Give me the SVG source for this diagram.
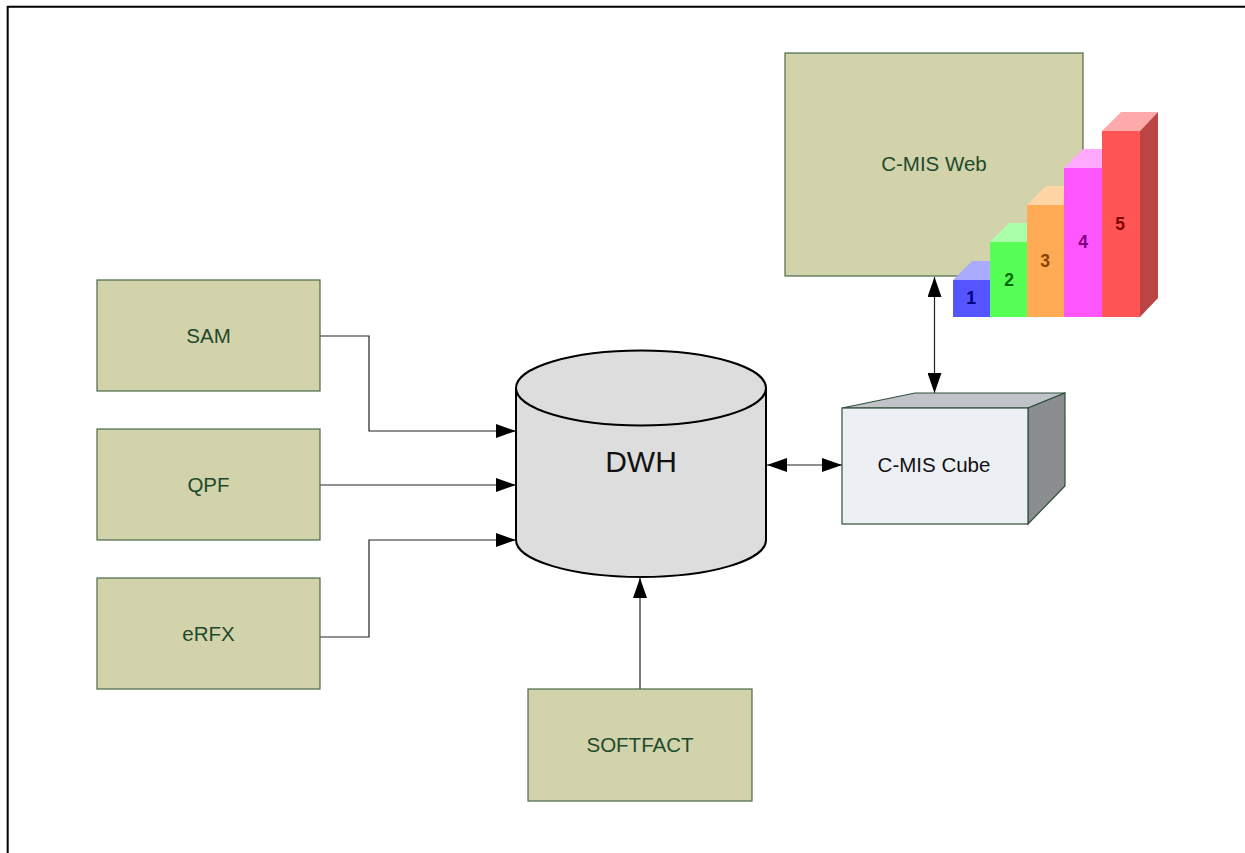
<svg xmlns="http://www.w3.org/2000/svg" width="1245" height="853" viewBox="0 0 1245 853">
  <style>
    .box { fill: #D2D2AB; stroke: #4A6A4A; stroke-width: 1.2; }
    .lbl { font-family: "Liberation Sans", Arial, sans-serif; font-size: 20.5px; fill: #1E4A2C; text-anchor: middle; }
    .num { font-family: "Liberation Sans", Arial, sans-serif; font-size: 17.5px; font-weight: bold; text-anchor: middle; }
    .conn { fill: none; stroke: #222; stroke-width: 1.2; }
    .cube { stroke: #2F4F3A; stroke-width: 1.2; }
  </style>
  <defs>
    <marker id="arrow" markerUnits="userSpaceOnUse" markerWidth="20" markerHeight="14" refX="20" refY="7" orient="auto-start-reverse">
      <path d="M0,0 L20,7 L0,14 z" fill="#000"/>
    </marker>
  </defs>

  <rect width="1245" height="853" fill="#fff"/>
  <!-- page frame -->
  <path d="M7.7,853 V6.7 H1245" fill="none" stroke="#000" stroke-width="2"/>

  <!-- connectors -->
  <g id="connectors">
    <path class="conn" d="M320,336 H369 V431 H516" marker-end="url(#arrow)"/>
    <path class="conn" d="M320,485 H516" marker-end="url(#arrow)"/>
    <path class="conn" d="M320,637 H369 V540 H516" marker-end="url(#arrow)"/>
    <path class="conn" d="M640,689 V578" marker-end="url(#arrow)"/>
    <path class="conn" d="M767,465 H842" marker-start="url(#arrow)" marker-end="url(#arrow)"/>
    <path class="conn" d="M934.5,277 V393" marker-start="url(#arrow)" marker-end="url(#arrow)"/>
  </g>

  <g id="sam">
    <rect class="box" x="97" y="280" width="223" height="111"/>
    <text class="lbl" x="208.5" y="343">SAM</text>
  </g>
  <g id="qpf">
    <rect class="box" x="97" y="429" width="223" height="111"/>
    <text class="lbl" x="208.5" y="492">QPF</text>
  </g>
  <g id="erfx">
    <rect class="box" x="97" y="578" width="223" height="111"/>
    <text class="lbl" x="208.5" y="641">eRFX</text>
  </g>
  <g id="softfact">
    <rect class="box" x="528" y="689" width="224" height="112"/>
    <text class="lbl" x="640" y="752">SOFTFACT</text>
  </g>

  <g id="dwh">
    <path d="M516,388 V540 A125,37 0 0 0 766,540 V388" fill="#DDDDDD" stroke="#000" stroke-width="2"/>
    <ellipse cx="641" cy="388" rx="125" ry="37.5" fill="#DDDDDD" stroke="#000" stroke-width="2"/>
    <text x="641" y="472" font-family="Liberation Sans, Arial, sans-serif" font-size="30" fill="#111" text-anchor="middle">DWH</text>
  </g>

  <g id="cmis-cube">
    <polygon class="cube" points="842,408 915,393 1065,393 1028,408" fill="#C0C3C8"/>
    <polygon class="cube" points="1028,408 1065,393 1065,486 1028,524" fill="#8B8E90"/>
    <rect class="cube" x="842" y="408" width="186" height="116" fill="#ECEFF4"/>
    <text x="934" y="472" font-family="Liberation Sans, Arial, sans-serif" font-size="20.5" fill="#111" text-anchor="middle">C-MIS Cube</text>
  </g>

  <g id="cmis-web">
    <rect class="box" x="785" y="53" width="298" height="223"/>
    <text class="lbl" x="934" y="171">C-MIS Web</text>
  </g>

  <!-- bar chart icon -->
  <g id="chart">
    <polygon points="953,280 972,261 1009,261 990,280" fill="#AAAAFF"/>
    <rect x="953" y="280" width="37" height="37" fill="#5555FF"/>
    <polygon points="990,242 1009,223 1046,223 1027,242" fill="#AAFFAA"/>
    <rect x="990" y="242" width="37" height="75" fill="#55FF55"/>
    <polygon points="1027,205 1046,186 1083,186 1064,205" fill="#FFD5A5"/>
    <rect x="1027" y="205" width="37" height="112" fill="#FFAA55"/>
    <polygon points="1064,168 1083,149 1121,149 1102,168" fill="#FFAAFF"/>
    <rect x="1064" y="168" width="38" height="149" fill="#FF55FF"/>
    <polygon points="1102,131 1121,112 1158,112 1140,131" fill="#FFAAAA"/>
    <polygon points="1140,131 1158,112 1158,298 1140,317" fill="#BB4444"/>
    <rect x="1102" y="131" width="38" height="186" fill="#FF5555"/>
    <text class="num" x="971" y="304" fill="#000080">1</text>
    <text class="num" x="1009" y="286" fill="#006600">2</text>
    <text class="num" x="1045" y="267" fill="#884400">3</text>
    <text class="num" x="1083" y="248" fill="#800080">4</text>
    <text class="num" x="1120" y="230" fill="#800000">5</text>
  </g>
</svg>
